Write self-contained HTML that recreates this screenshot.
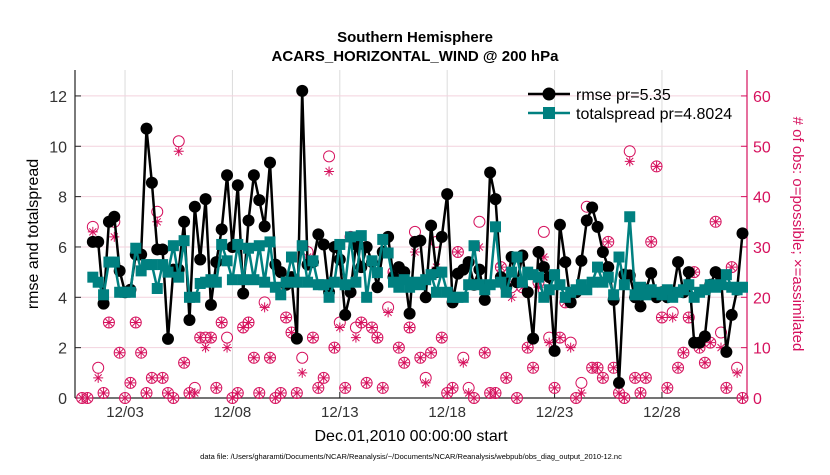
<!DOCTYPE html>
<html><head><meta charset="utf-8"><style>
body{margin:0;background:#fff;}
svg text{font-family:"Liberation Sans",sans-serif;}
</style></head><body>
<svg id="chart" width="830" height="470" viewBox="0 0 830 470" xmlns="http://www.w3.org/2000/svg">
<rect width="830" height="470" fill="#fff"/>
<text x="415" y="42" text-anchor="middle" font-size="15" font-weight="bold">Southern Hemisphere</text>
<text x="415" y="61" text-anchor="middle" font-size="15" font-weight="bold">ACARS_HORIZONTAL_WIND @ 200 hPa</text>
<g id="grid"></g>
<g id="axes"></g>
<g id="obs"></g>
<g id="lines"></g>
<text transform="translate(38,234) rotate(-90)" text-anchor="middle" font-size="16">rmse and totalspread</text>
<text transform="translate(793,234) rotate(90)" text-anchor="middle" font-size="15" fill="#d6125e"># of obs: o=possible; ×=assimilated</text>
<text x="411" y="441" text-anchor="middle" font-size="16">Dec.01,2010 00:00:00 start</text>
<text x="411" y="459" text-anchor="middle" font-size="7.5">data file: /Users/gharamti/Documents/NCAR/Reanalysis/~/Documents/NCAR/Reanalysis/webpub/obs_diag_output_2010-12.nc</text>
<g id="legend">
 <g>
  <line x1="528" y1="94" x2="570" y2="94" stroke="#000" stroke-width="2.5"/>
  <circle cx="549" cy="94" r="6.5" fill="#000"/>
  <text x="576" y="100" font-size="16">rmse pr=5.35</text>
 </g>
 <g>
  <line x1="528" y1="113" x2="570" y2="113" stroke="#008080" stroke-width="2.5"/>
  <rect x="543" y="107" width="12" height="12" fill="#008080"/>
  <text x="576" y="119" font-size="16">totalspread pr=4.8024</text>
 </g>
</g>
</svg>
<script>
const rmse=[null,null,6.2,6.2,3.75,7.0,7.2,5.05,4.2,4.3,5.7,5.7,10.7,8.55,5.9,5.9,2.35,5.1,5.1,7.0,3.1,7.6,5.5,7.9,3.7,5.4,6.7,8.85,6.0,8.45,4.15,7.05,8.85,7.86,6.82,9.35,5.3,5.0,4.5,4.8,2.36,12.2,5.3,5.4,6.5,6.1,4.2,6.0,5.5,3.3,4.2,6.1,5.2,6.0,5.4,4.4,5.8,6.4,4.8,5.2,5.0,3.35,6.2,6.25,4.0,6.85,5.0,6.4,8.1,3.8,4.94,5.1,5.4,4.5,5.1,3.9,8.96,7.9,4.8,4.4,5.6,4.6,5.66,4.2,2.36,5.8,5.2,4.8,1.87,6.88,5.4,3.8,4.2,5.45,7.05,7.57,6.8,5.8,5.2,3.9,0.6,4.9,4.87,4.0,3.64,4.3,4.96,4.0,4.2,4.0,4.1,5.4,4.2,5.0,2.2,2.2,2.45,4.5,5.0,4.8,1.83,3.3,4.3,6.54];
const spread=[null,null,4.8,4.6,4.1,5.4,5.4,4.2,4.2,4.2,5.95,5.05,5.3,5.3,4.35,5.3,5.0,6.05,4.8,6.25,4.0,4.0,4.55,4.6,4.7,4.6,6.1,5.45,4.7,6.1,4.7,5.95,4.7,6.05,4.6,6.2,4.4,4.1,4.6,5.6,4.6,6.05,4.6,5.45,4.5,4.5,4.0,4.6,6.1,4.5,6.4,4.6,6.45,4.0,5.45,4.98,6.3,5.76,4.6,4.4,4.7,4.4,4.6,4.5,4.7,4.9,4.2,5.0,4.2,4.0,4.0,4.0,4.5,6.05,4.5,4.3,4.5,6.8,4.6,4.2,5.0,5.6,4.6,5.0,4.9,4.8,4.0,4.3,4.9,4.5,4.0,4.2,4.3,4.5,4.3,4.6,5.2,4.6,4.8,4.1,5.6,4.5,7.2,4.1,4.4,4.1,4.3,4.2,4.1,4.3,4.0,4.2,4.3,4.5,4.0,4.2,4.3,4.5,4.4,4.5,4.9,4.4,4.3,4.4];
const possible=[0,0,34,6,1,15,35,9,0,3,15,9,1,4,37,4,1,0,51,7,1,2,12,12,12,2,15,12,0,1,14,15,8,1,19,8,0,1,16,13,1,8,29,12,2,4,48,10,15,2,32,14,15,3,14,12,2,18,25,10,7,14,33,8,4,9,31,12,1,2,29,8,2,0,35,9,1,1,26,4,22,0,22,10,6,23,33,12,2,12,19,11,0,3,38,6,6,4,31,6,1,0,49,4,1,4,31,46,16,2,17,6,9,16,25,10,7,11,35,13,2,26,6,0];
const assimilated=[0,0,33,4,1,15,32,9,0,3,15,9,1,4,35,4,1,0,49,7,1,1,12,10,12,2,15,10,0,1,14,15,8,1,18,8,0,1,16,13,1,5,28,12,2,4,45,10,14,2,32,12,15,3,14,12,2,17,25,10,7,14,29,8,3,9,26,12,1,2,29,7,1,0,30,9,1,1,26,4,20,0,22,10,6,22,28,11,2,12,19,10,0,1,35,6,6,4,31,6,1,0,47,4,1,4,31,46,16,2,16,6,9,16,25,10,7,11,35,10,2,26,5,0];
const xTickLabels=["12/03","12/08","12/13","12/18","12/23","12/28"];
const xTickDays=[2,7,12,17,22,27];
const yTicks=[0,2,4,6,8,10,12];
const y2Ticks=[0,10,20,30,40,50,60];

const NS="http://www.w3.org/2000/svg";
const L=75,R=747,T=70,B=398;
const dayMin=-0.33,dayMax=30.96,yMax=13.03,y2Max=65.15;
const xDay=d=>L+(d-dayMin)/(dayMax-dayMin)*(R-L);
const xIdx=i=>xDay(i*0.25);
const yL=v=>B-v/yMax*(B-T);
const yR=v=>B-v/y2Max*(B-T);
function mk(tag,attrs,parent){const e=document.createElementNS(NS,tag);for(const k in attrs)e.setAttribute(k,attrs[k]);parent.appendChild(e);return e;}
const grid=document.getElementById('grid'),axes=document.getElementById('axes'),obs=document.getElementById('obs'),lines=document.getElementById('lines');
const RED="#d6125e";
xTickDays.forEach((d,k)=>{
  const x=xDay(d);
  const g=mk('line',{x1:x,y1:T,x2:x,y2:B,stroke:'#dcdcdc','stroke-width':1},grid);
  
  
  const t=mk('line',{x1:x,y1:B,x2:x,y2:B-6,stroke:'#222','stroke-width':1},axes);
  
  
  const tx=mk('text',{x:x,y:417,'text-anchor':'middle','font-size':15,fill:'#333'},axes);
  tx.textContent=xTickLabels[k];
  
  
});
y2Ticks.forEach(v=>{
  const y=yR(v);
  const g=mk('line',{x1:L,y1:y,x2:R,y2:y,stroke:'#f3d2de','stroke-width':1},grid);
  
  
  const t=mk('line',{x1:R-6,y1:y,x2:R,y2:y,stroke:RED,'stroke-width':1},axes);
  
  
  const tx=mk('text',{x:R+6,y:y+6,'font-size':16,fill:RED},axes);
  tx.textContent=v;
  
  
});
yTicks.forEach(v=>{
  const y=yL(v);
  const t=mk('line',{x1:L,y1:y,x2:L+6,y2:y,stroke:'#222','stroke-width':1},axes);
  
  
  const tx=mk('text',{x:L-8,y:y+6,'text-anchor':'end','font-size':16,fill:'#333'},axes);
  tx.textContent=v;
  
  
});
const ax1=mk('line',{x1:L,y1:T,x2:L,y2:B,stroke:'#222','stroke-width':1.2},axes);


const ax2=mk('line',{x1:L,y1:B,x2:R,y2:B,stroke:'#222','stroke-width':1.2},axes);


const ax3=mk('line',{x1:R,y1:T,x2:R,y2:B,stroke:RED,'stroke-width':1.2},axes);



possible.forEach((v,i)=>{
  const c=mk('circle',{cx:xIdx(i),cy:yR(v),r:5.5,fill:'none',stroke:RED,'stroke-width':1},obs);
  
  
});
assimilated.forEach((v,i)=>{
  const x=xIdx(i),y=yR(v),s=5;
  const p=mk('path',{d:`M${x-s} ${y}H${x+s}M${x} ${y-s}V${y+s}M${x-s*0.7} ${y-s*0.7}L${x+s*0.7} ${y+s*0.7}M${x-s*0.7} ${y+s*0.7}L${x+s*0.7} ${y-s*0.7}`,stroke:RED,'stroke-width':1},obs);
  
  
});
function series(arr,color,name,marker){
  let d='';let pen=false;
  arr.forEach((v,i)=>{if(v==null){pen=false;return;}d+=(pen?'L':'M')+xIdx(i).toFixed(1)+' '+yL(v).toFixed(1);pen=true;});
  const p=mk('path',{d:d,fill:'none',stroke:color,'stroke-width':2.5,'stroke-linejoin':'round'},lines);
  
  
  arr.forEach((v,i)=>{
    if(v==null)return;
    const x=xIdx(i),y=yL(v);
    const m=marker==='c'?mk('circle',{cx:x,cy:y,r:6,fill:color},lines):mk('rect',{x:x-5.5,y:y-5.5,width:11,height:11,fill:color},lines);
    
    
  });
}
series(rmse,'#000','rmse','c');
series(spread,'#008080','totalspread','s');
</script>
</body></html>
